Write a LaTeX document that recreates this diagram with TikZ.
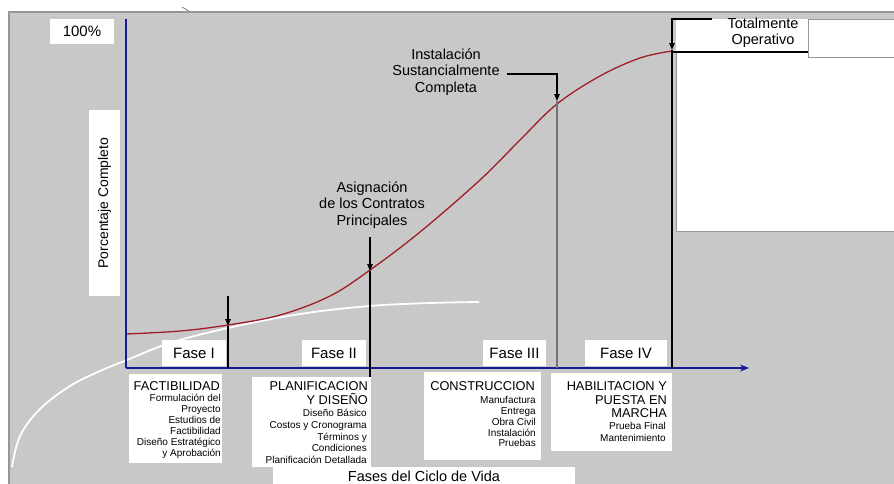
\documentclass[tikz,border=0pt]{standalone}
\usepackage{fontspec}
\setmainfont{Liberation Sans}
\usetikzlibrary{arrows.meta}
\definecolor{panelgray}{RGB}{200,200,200}
\definecolor{rimgray}{RGB}{150,150,150}
\definecolor{axisblue}{RGB}{25,25,150}
\definecolor{curvered}{RGB}{160,30,40}
\definecolor{guidegray}{RGB}{115,115,115}
\newcommand{\fsz}[2]{\fontsize{#1}{#2}\selectfont}

\begin{document}
\begin{tikzpicture}[x=1pt,y=-1pt,
  card/.style={fill=white, draw=none, inner sep=0pt, outer sep=0pt},
  tag/.style={card, minimum height=26pt, font=\fsz{15}{17}},
  head/.style={inner sep=0pt, align=right, font=\fsz{12.8}{14}},
  items/.style={inner sep=0pt, align=right, font=\fsz{10}{#1}},
  items/.default=11.4,
  note/.style={inner sep=0pt, align=center, font=\fsz{14.5}{16.8}},
  pointer/.style={line width=1.2pt, -{Triangle[length=7pt,width=5.5pt]}},
  guide/.style={line width=1.2pt},
  axis/.style={draw=axisblue, line width=1.5pt},
]
\useasboundingbox (0,0) rectangle (894,483);

% grey panel with its rim
\fill[panelgray] (9,12) rectangle (900,490);
\draw[rimgray, line width=2pt] (9,490) -- (9,12) -- (900,12);
\draw[guidegray, line width=0.8pt] (182,7) -- (189,11);

% white area to the right of full operation
\fill[white] (676,19) rectangle (900,231);
\draw[rimgray, line width=1pt] (676,52) -- (676,231) -- (900,231);
\node[card, draw=rimgray, line width=1pt, minimum width=92pt, minimum height=38pt, anchor=north west] (opBox) at (808,19) {};

% white reference curve
\draw[white, line width=1.8pt] plot[smooth, tension=0.6] coordinates {(12,467) (20,436) (40,409) (70,386) (100,371) (127,360) (170,343) (228,328) (300,314) (370,306) (430,303) (479,302)};

% progress S-curve
\draw[curvered, line width=1.3pt] plot[smooth, tension=0.6] coordinates {(126,334) (180,331) (228,325) (280,315) (330,296) (370,270) (420,232) (480,180) (520,140) (557,104) (600,76) (640,58) (672,51)};

% axes
\coordinate (origin) at (126,368);
\coordinate (yTop) at (126,19);
\coordinate (xEnd) at (749,368);
\draw[axis] (yTop) -- (origin);
\draw[axis, -{Stealth[length=9pt,width=7pt]}] (origin) -- (xEnd);

% milestone annotations
\node[note] (asig) at (372,205) {Asignación\\de los Contratos\\Principales};
\node[note] (inst) at (446,72) {Instalación\\Sustancialmente\\Completa};
\node[note, font=\fsz{14.5}{16}] (oper) at (763,33) {Totalmente\\Operativo};

% milestone markers
\coordinate (tailI) at (228,296);
\coordinate (tipI) at (228,326);
\coordinate (footI) at (228,368);
\draw[pointer] (tailI) -- (tipI);
\draw[guide] (tipI) -- (footI);

\coordinate (tailA) at (370,237);
\coordinate (tipA) at (370,271);
\coordinate (footA) at (370,378);
\draw[pointer] (tailA) -- (tipA);
\draw[guide] (tipA) -- (footA);

\coordinate (tailS) at (507,74);
\coordinate (tipS) at (557,101);
\coordinate (footS) at (557,368);
\draw[pointer] (tailS) -| (tipS);
\draw[guidegray, line width=1.6pt] (tipS) -- (footS);

\coordinate (tailO) at (712,19);
\coordinate (tipO) at (672,50);
\coordinate (footO) at (672,368);
\coordinate (shelfO) at (672,52);
\draw[pointer] (tailO) -| (tipO);
\draw[guide] (tipO) -- (footO);
\draw[guide] (shelfO) -- (opBox.south west |- shelfO);

% axis labels
\node[card, minimum width=64pt, minimum height=25pt, font=\fsz{15}{17}] (pct) at (82,31.5) {100\%};
\node[card, minimum width=31pt, minimum height=186pt] (ylab) at (104.5,203) {};
\node[rotate=90, inner sep=0pt, font=\fsz{14}{16}] (ytext) at (ylab.center) {Porcentaje Completo};

% phase tags
\node[tag, minimum width=64pt] (f1) at (194,353) {Fase I};
\node[tag, minimum width=64pt] (f2) at (334,353) {Fase II};
\node[tag, minimum width=63pt] (f3) at (514.5,353) {Fase III};
\node[tag, minimum width=82pt] (f4) at (626,353) {Fase IV};

% phase descriptions (base anchors sit on the last line of each block)
\node[card, minimum width=93pt, minimum height=89pt, anchor=north west] (factBox) at (129,374) {};
\node[head, anchor=base east] (factHead) at (220,390.6) {FACTIBILIDAD};
\node[items=11, anchor=base east] (factList) at (221,456) {Formulación del\\Proyecto\\Estudios de\\Factibilidad\\Diseño Estratégico\\y Aprobación};

\node[card, minimum width=119pt, minimum height=90pt, anchor=north west] (planBox) at (252,377) {};
\node[head, anchor=base east] (planHead) at (368,404.6) {PLANIFICACION\\Y DISEÑO};
\node[items=11.75, anchor=base east] (planList) at (367,463.6) {Diseño Básico\\Costos y Cronograma\\Términos y\\Condiciones\\Planificación Detallada};

\node[card, minimum width=117pt, minimum height=88pt, anchor=north west] (consBox) at (424,372) {};
\node[head, anchor=base east] (consHead) at (535,390.6) {CONSTRUCCION};
\node[items=10.8, anchor=base east] (consList) at (536,446.8) {Manufactura\\Entrega\\Obra Civil\\Instalación\\Pruebas};

\node[card, minimum width=121pt, minimum height=78pt, anchor=north west] (habBox) at (551,373) {};
\node[head, anchor=base east, font=\fsz{12.8}{13.6}] (habHead) at (667,417.6) {HABILITACION Y\\PUESTA EN\\MARCHA};
\node[items=12, anchor=base east] (habList) at (666,441.6) {Prueba Final\\Mantenimiento};

% horizontal axis title
\node[card, minimum width=302pt, minimum height=24pt, anchor=north west] (lifeBox) at (273,467) {};
\node[inner sep=0pt, anchor=base, font=\fsz{14.5}{16}] (lifeText) at (424,481) {Fases del Ciclo de Vida};
\end{tikzpicture}
\end{document}
